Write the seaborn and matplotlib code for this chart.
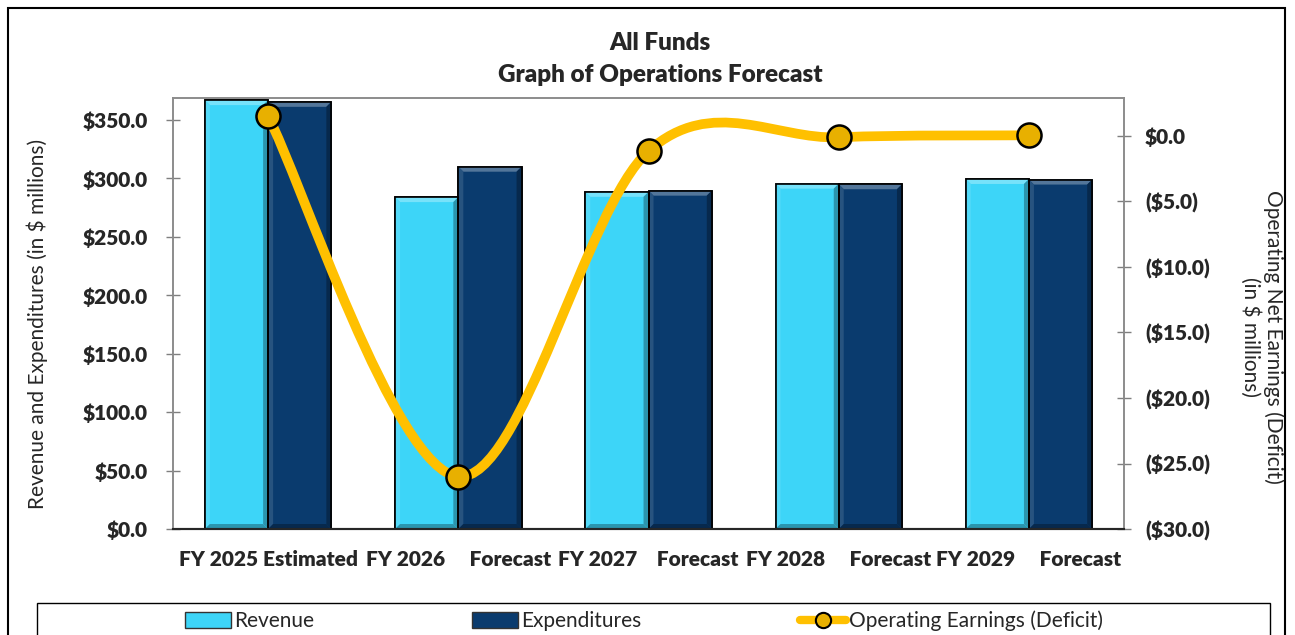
import matplotlib
matplotlib.use("Agg")

import matplotlib.pyplot as plt
import seaborn as sns
import pandas as pd
import numpy as np

from matplotlib import font_manager
from matplotlib.colors import to_rgb
from matplotlib.path import Path
from matplotlib.patches import PathPatch, Rectangle, Patch, Polygon
from matplotlib.lines import Line2D
from matplotlib.ticker import FuncFormatter, MultipleLocator


# ==============================
# DATA ($ millions)
# ==============================
years = ["FY 2025 Estimated", "FY 2026 Forecast", "FY 2027 Forecast",
         "FY 2028 Forecast", "FY 2029 Forecast"]
tick_labels = ["FY 2025 Estimated", "FY 2026     Forecast", "FY 2027    Forecast",
               "FY 2028     Forecast", "FY 2029     Forecast"]
revenue = [367.0, 284.0, 288.5, 295.5, 299.5]
expenditures = [365.5, 310.0, 289.5, 295.0, 299.0]
earnings = [1.5, -26.0, -1.15, -0.1, 0.05]

REV_COLOR = "#3DD5F8"
EXP_COLOR = "#0A3B6E"
LINE_COLOR = "#FFC000"
DOT_COLOR = "#E8B000"


# ==============================
# FONT: first family that has a real (700, upright) bold face
# ==============================
def has_bold(name):
    for f in font_manager.fontManager.ttflist:
        if f.name != name or f.style != "normal":
            continue
        w = f.weight
        if isinstance(w, str):
            w = font_manager.weight_dict.get(w, 400)
        if w == 700:
            return True
    return False


FAMILY = "DejaVu Sans"
for cand in ["Lato", "Open Sans", "Noto Sans", "Roboto", "Liberation Sans"]:
    if has_bold(cand):
        FAMILY = cand
        break

BOLD = "heavy"


# ==============================
# STYLE
# ==============================
sns.set_theme(style="white")
plt.rcParams["font.family"] = [FAMILY, "DejaVu Sans"]

FS = 15

fig = plt.figure(figsize=(12.95, 6.35), dpi=100)
ax = fig.add_axes([0.1336, 0.1669, 0.7344, 0.6788])


# ==============================
# BARS
# ==============================
df = pd.DataFrame({
    "year": years * 2,
    "series": ["Revenue"] * len(years) + ["Expenditures"] * len(years),
    "value": revenue + expenditures,
})

sns.barplot(
    data=df, x="year", y="value", hue="series",
    palette=[REV_COLOR, EXP_COLOR], saturation=1,
    width=0.665, gap=0, edgecolor="black", linewidth=1.2,
    legend=False, ax=ax,
)

ax.set_xlim(-0.5, len(years) - 0.5)
ax.set_ylim(0, 368.8)
ax.yaxis.set_major_locator(MultipleLocator(50))
ax.yaxis.set_major_formatter(FuncFormatter(lambda v, p: f"${v:,.1f}"))
ax.set_xticks(range(len(years)))
ax.set_xticklabels(tick_labels)
ax.set_xlabel("")
ax.set_ylabel("")

ax.tick_params(axis="y", direction="inout", length=10, width=1,
               color="#7F7F7F", labelsize=FS, pad=13, left=True)
ax.tick_params(axis="x", length=0, labelsize=FS, pad=15)
plt.setp(ax.get_yticklabels(), fontweight=BOLD)
plt.setp(ax.get_xticklabels(), fontweight=BOLD)


# bevel look: light strip on top/left, shade on right/bottom of every bar
def mix(c, other, t):
    c = np.array(to_rgb(c))
    return tuple(c + (np.array(other) - c) * t)


px_x = ax.transData.transform((1, 0))[0] - ax.transData.transform((0, 0))[0]
px_y = ax.transData.transform((0, 1))[1] - ax.transData.transform((0, 0))[1]
dx, dy = 5 / px_x, 5 / px_y

for bar in list(ax.patches):
    x0, y0 = bar.get_x(), bar.get_y()
    x1, y1 = x0 + bar.get_width(), y0 + bar.get_height()
    fc = bar.get_facecolor()
    light = mix(fc, (1, 1, 1), 0.30)
    side = mix(fc, (1, 1, 1), 0.12)
    dark = mix(fc, (0, 0, 0), 0.30)
    strips = [
        ([(x0, y1), (x1, y1), (x1 - dx, y1 - dy), (x0 + dx, y1 - dy)], light),
        ([(x0, y0), (x0, y1), (x0 + dx, y1 - dy), (x0 + dx, y0 + dy)], side),
        ([(x1, y0), (x1, y1), (x1 - dx, y1 - dy), (x1 - dx, y0 + dy)], dark),
        ([(x0, y0), (x1, y0), (x1 - dx, y0 + dy), (x0 + dx, y0 + dy)], dark),
    ]
    for poly, col in strips:
        ax.add_patch(Polygon(poly, closed=True, facecolor=col,
                             edgecolor="none", zorder=bar.get_zorder() + 0.1))
    ax.add_patch(Rectangle((x0, y0), x1 - x0, y1 - y0, fill=False,
                           edgecolor="black", lw=1.2,
                           zorder=bar.get_zorder() + 0.2))


# ==============================
# SECONDARY AXIS - SMOOTH LINE
# ==============================
ax2 = ax.twinx()
ax2.set_ylim(-30, 2.9)
ax2.yaxis.set_major_locator(MultipleLocator(5))


def paren_fmt(v, p):
    if v < -0.01:
        return f"(${abs(v):.1f})"
    return f"${abs(v):.1f}"


ax2.yaxis.set_major_formatter(FuncFormatter(paren_fmt))
ax2.tick_params(axis="y", direction="inout", length=10, width=1,
                color="#7F7F7F", labelsize=FS, pad=10, right=True)
plt.setp(ax2.get_yticklabels(), fontweight=BOLD)

# Excel-style smoothed line: Catmull-Rom bezier through the data points
xs = list(range(len(earnings)))
pts = list(zip(xs, earnings))
verts = [pts[0]]
codes = [Path.MOVETO]
for i in range(len(pts) - 1):
    p0 = pts[max(i - 1, 0)]
    p1 = pts[i]
    p2 = pts[i + 1]
    p3 = pts[min(i + 2, len(pts) - 1)]
    c1 = (p1[0] + (p2[0] - p0[0]) / 6, p1[1] + (p2[1] - p0[1]) / 6)
    c2 = (p2[0] - (p3[0] - p1[0]) / 6, p2[1] - (p3[1] - p1[1]) / 6)
    verts += [c1, c2, p2]
    codes += [Path.CURVE4] * 3

ax2.add_patch(PathPatch(Path(verts, codes), facecolor="none",
                        edgecolor=LINE_COLOR, lw=7, capstyle="round",
                        joinstyle="round", zorder=3))
sns.scatterplot(x=xs, y=earnings, ax=ax2, s=300, color=DOT_COLOR,
                edgecolor="black", linewidth=1.8, zorder=4, legend=False)


# ==============================
# SPINES
# ==============================
for a in (ax, ax2):
    for side in ("top", "left", "right"):
        a.spines[side].set_visible(True)
        a.spines[side].set_color("#8C8C8C")
        a.spines[side].set_linewidth(1.2)
    a.spines["bottom"].set_color("#262626")
    a.spines["bottom"].set_linewidth(1.5)


# ==============================
# TEXT
# ==============================
fig.text(0.5097, 0.907, "All Funds\nGraph of Operations Forecast",
         ha="center", va="center", fontsize=17.5, fontweight=BOLD,
         linespacing=1.55)

fig.text(0.0286, 0.49, "Revenue and Expenditures (in $ millions)",
         rotation=90, ha="center", va="center", fontsize=FS)

fig.text(0.9745, 0.47, "Operating Net Earnings (Deficit)\n(in $ millions)",
         rotation=-90, ha="center", va="center", fontsize=FS,
         multialignment="center", linespacing=1.1)


# ==============================
# LEGEND
# ==============================
handles = [
    Patch(facecolor=REV_COLOR, edgecolor="#333333", label="Revenue"),
    Patch(facecolor=EXP_COLOR, edgecolor="#333333", label="Expenditures"),
    Line2D([0], [0], color=LINE_COLOR, lw=6, marker="o", markersize=11,
           markerfacecolor=DOT_COLOR, markeredgecolor="black",
           markeredgewidth=1.5, label="Operating Earnings (Deficit)"),
]
leg = fig.legend(
    handles=handles, loc="center left", ncol=3,
    bbox_to_anchor=(0.143, 0.022), borderaxespad=0, borderpad=0,
    frameon=False, fontsize=FS, handlelength=2.2, handleheight=0.8,
    handletextpad=0.15, columnspacing=7.6,
)

# legend box and outer chart frame
fig.patches.append(Rectangle((0.0286, -0.2), 0.952, 0.2504, fill=False,
                             edgecolor="black", lw=1.0,
                             transform=fig.transFigure, figure=fig))
fig.patches.append(Rectangle((0.0062, -0.2), 0.9861, 1.1874, fill=False,
                             edgecolor="black", lw=1.5,
                             transform=fig.transFigure, figure=fig))

fig.savefig("out.png", dpi=100)
plt.close(fig)
